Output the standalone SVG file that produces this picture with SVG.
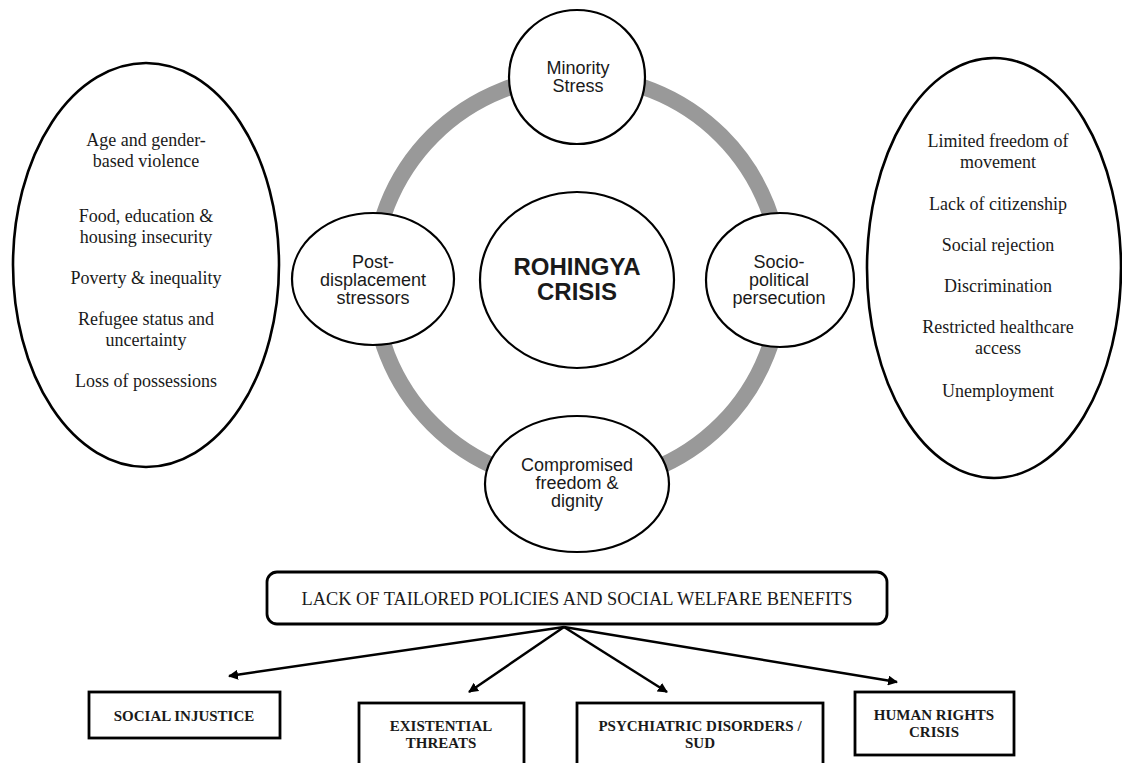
<svg xmlns="http://www.w3.org/2000/svg" width="1122" height="763" viewBox="0 0 1122 763">
<style>
.sans{font-family:"Liberation Sans",Arial,sans-serif;font-size:18px;fill:#1a1a1a;text-anchor:middle}
.serif{font-family:"Liberation Serif","Times New Roman",serif;font-size:18px;fill:#1a1a1a;text-anchor:middle}
.bold{font-family:"Liberation Serif","Times New Roman",serif;font-size:15px;font-weight:bold;fill:#1a1a1a;text-anchor:middle}
.node{fill:#fff;stroke:#000;stroke-width:2.2}
.big{fill:#fff;stroke:#000;stroke-width:2.6}
.box{fill:#fff;stroke:#000;stroke-width:2.8}
.conn{stroke:#000;stroke-width:2.5;fill:none;marker-end:url(#ah)}
</style>
<defs>
<marker id="ah" viewBox="0 0 10 10" refX="9" refY="5" markerWidth="4" markerHeight="4" orient="auto" markerUnits="strokeWidth">
<path d="M0,0 L10,5 L0,10 z" fill="#000"/>
</marker>
</defs>
<rect width="1122" height="763" fill="#fff"/>

<g id="ring"><circle cx="577" cy="280" r="204" fill="none" stroke="#999" stroke-width="16"/></g>

<g id="left-list">
<ellipse class="big" cx="146" cy="265" rx="133" ry="202"/>
<text class="serif" x="146" y="146">Age and gender-</text>
<text class="serif" x="146" y="167">based violence</text>
<text class="serif" x="146" y="222">Food, education &amp;</text>
<text class="serif" x="146" y="243">housing insecurity</text>
<text class="serif" x="146" y="284">Poverty &amp; inequality</text>
<text class="serif" x="146" y="325">Refugee status and</text>
<text class="serif" x="146" y="346">uncertainty</text>
<text class="serif" x="146" y="387">Loss of possessions</text>
</g>

<g id="right-list">
<ellipse class="big" cx="994" cy="268" rx="127" ry="210"/>
<text class="serif" x="998" y="147">Limited freedom of</text>
<text class="serif" x="998" y="168">movement</text>
<text class="serif" x="998" y="210">Lack of citizenship</text>
<text class="serif" x="998" y="251">Social rejection</text>
<text class="serif" x="998" y="292">Discrimination</text>
<text class="serif" x="998" y="333">Restricted healthcare</text>
<text class="serif" x="998" y="354">access</text>
<text class="serif" x="998" y="397">Unemployment</text>
</g>

<g id="minority">
<ellipse class="node" cx="577" cy="77" rx="68" ry="67"/>
<text class="sans" x="578" y="74">Minority</text>
<text class="sans" x="578" y="92">Stress</text>
</g>

<g id="post">
<ellipse class="node" cx="373" cy="279" rx="81" ry="66"/>
<text class="sans" x="373" y="268">Post-</text>
<text class="sans" x="373" y="286">displacement</text>
<text class="sans" x="373" y="304">stressors</text>
</g>

<g id="socio">
<ellipse class="node" cx="780" cy="280" rx="74" ry="67"/>
<text class="sans" x="779" y="268">Socio-</text>
<text class="sans" x="779" y="286">political</text>
<text class="sans" x="779" y="304">persecution</text>
</g>

<g id="compromised">
<ellipse class="node" cx="577" cy="484" rx="92" ry="68"/>
<text class="sans" x="577" y="471">Compromised</text>
<text class="sans" x="577" y="489">freedom &amp;</text>
<text class="sans" x="577" y="507">dignity</text>
</g>

<g id="crisis">
<ellipse class="node" cx="577" cy="280" rx="97" ry="88"/>
<text class="sans" x="577" y="275" style="font-size:24px;font-weight:bold">ROHINGYA</text>
<text class="sans" x="577" y="300" style="font-size:24px;font-weight:bold">CRISIS</text>
</g>

<g id="lack">
<rect class="box" x="267" y="572" width="620" height="52" rx="10"/>
<text class="serif" x="577" y="605" textLength="551" lengthAdjust="spacingAndGlyphs">LACK OF TAILORED POLICIES AND SOCIAL WELFARE BENEFITS</text>
</g>

<g id="connectors">
<line class="conn" x1="564" y1="627" x2="229" y2="676"/>
<line class="conn" x1="564" y1="627" x2="469" y2="692"/>
<line class="conn" x1="564" y1="627" x2="667" y2="692"/>
<line class="conn" x1="564" y1="627" x2="897" y2="682"/>
</g>

<g id="social-injustice">
<rect class="box" x="89" y="692" width="191" height="46"/>
<text class="bold" x="184" y="721">SOCIAL INJUSTICE</text>
</g>

<g id="existential">
<rect class="box" x="359" y="703" width="165" height="70"/>
<text class="bold" x="441" y="731">EXISTENTIAL</text>
<text class="bold" x="441" y="748">THREATS</text>
</g>

<g id="psychiatric">
<rect class="box" x="577" y="703" width="246" height="70"/>
<text class="bold" x="700" y="731">PSYCHIATRIC DISORDERS /</text>
<text class="bold" x="700" y="748">SUD</text>
</g>

<g id="human-rights">
<rect class="box" x="855" y="692" width="159" height="63"/>
<text class="bold" x="934" y="720">HUMAN RIGHTS</text>
<text class="bold" x="934" y="737">CRISIS</text>
</g>
</svg>
